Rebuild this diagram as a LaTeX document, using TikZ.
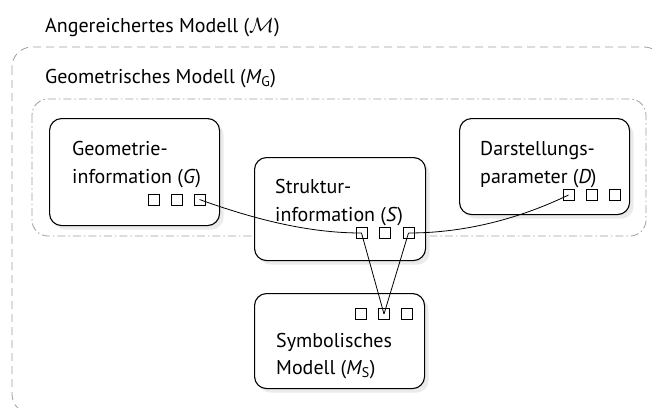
\documentclass[tikz,border=0pt]{standalone}
\usepackage{fontspec}
\setmainfont{PT Sans}
\usetikzlibrary{shadows}
\definecolor{shadowgray}{gray}{0.92}
\definecolor{framegray}{gray}{0.62}
\tikzset{
  txt/.style={anchor=base west, inner sep=0pt, font=\fontsize{20}{26}\selectfont},
  boxnode/.style={draw=black, line width=1.1pt, rounded corners=12pt, fill=white,
    anchor=north west, inner sep=0pt,
    drop shadow={shadow xshift=4pt, shadow yshift=-4pt, fill=shadowgray, opacity=1, draw=none}},
  port/.style={draw=black, line width=0.8pt, fill=white, minimum size=11pt, inner sep=0pt},
  conn/.style={line width=0.8pt, black},
  outerframe/.style={draw=framegray, line width=0.8pt, dash pattern=on 8pt off 5pt, rounded corners=20pt},
  innerframe/.style={draw=framegray, line width=0.8pt, dash pattern=on 8pt off 3pt on 1.5pt off 3pt, rounded corners=16pt}
}
\begin{document}
\begin{tikzpicture}[x=1pt,y=-1pt]
\useasboundingbox (0,0) rectangle (656,407);
\clip (0,0) rectangle (656,407);
% frames
\draw[outerframe] (12,47) rectangle (664,414);
\draw[innerframe] (32,99) rectangle (646,236);
\node[txt] (tA) at (45,32) {Angereichertes Modell ($\mathcal{M}$)};
\node[txt] (tG) at (45,83) {Geometrisches Modell (\textit{M}\textsubscript{G})};
% boxes
\node[boxnode, minimum width=170pt, minimum height=107pt] (G) at (49,118) {};
\node[boxnode, minimum width=170pt, minimum height=96pt] (D) at (459,118) {};
\node[boxnode, minimum width=171pt, minimum height=103pt] (S) at (254,157) {};
\node[boxnode, minimum width=170pt, minimum height=95pt] (M) at (254,293) {};
% texts
\node[txt] (G1) at (72,155) {Geometrie-};
\node[txt] (G2) at (72,183) {information (\textit{G})};
\node[txt] (D1t) at (480,155) {Darstellungs-};
\node[txt] (D2t) at (480,183) {parameter (\textit{D})};
\node[txt] (S1t) at (275,193) {Struktur-};
\node[txt] (S2t) at (275,221) {information (\textit{S})};
\node[txt] (M1t) at (276,347) {Symbolisches};
\node[txt] (M2t) at (276,374) {Modell (\textit{M}\textsubscript{S})};
% ports
\node[port] (Ga) at (153.5,199.5) {};
\node[port] (Gb) at (176.5,199.5) {};
\node[port] (Gc) at (199.5,199.5) {};
\node[port] (Da) at (568.5,195) {};
\node[port] (Db) at (591.5,195) {};
\node[port] (Dc) at (614.5,195) {};
\node[port] (Sa) at (361.5,233) {};
\node[port] (Sb) at (385,233) {};
\node[port] (Sc) at (408.5,233) {};
\node[port] (Ma) at (361,314) {};
\node[port] (Mb) at (384,314) {};
\node[port] (Mc) at (407,314) {};
% connectors
\draw[conn] (Gc.center) .. controls (270,225) and (320,233) .. (Sa.center);
\draw[conn] (Sc.center) .. controls (470,233) and (525,216) .. (Da.center);
\draw[conn] (Sa.center) -- (Mb.center);
\draw[conn] (Sc.center) -- (Mb.center);
\end{tikzpicture}
\end{document}
